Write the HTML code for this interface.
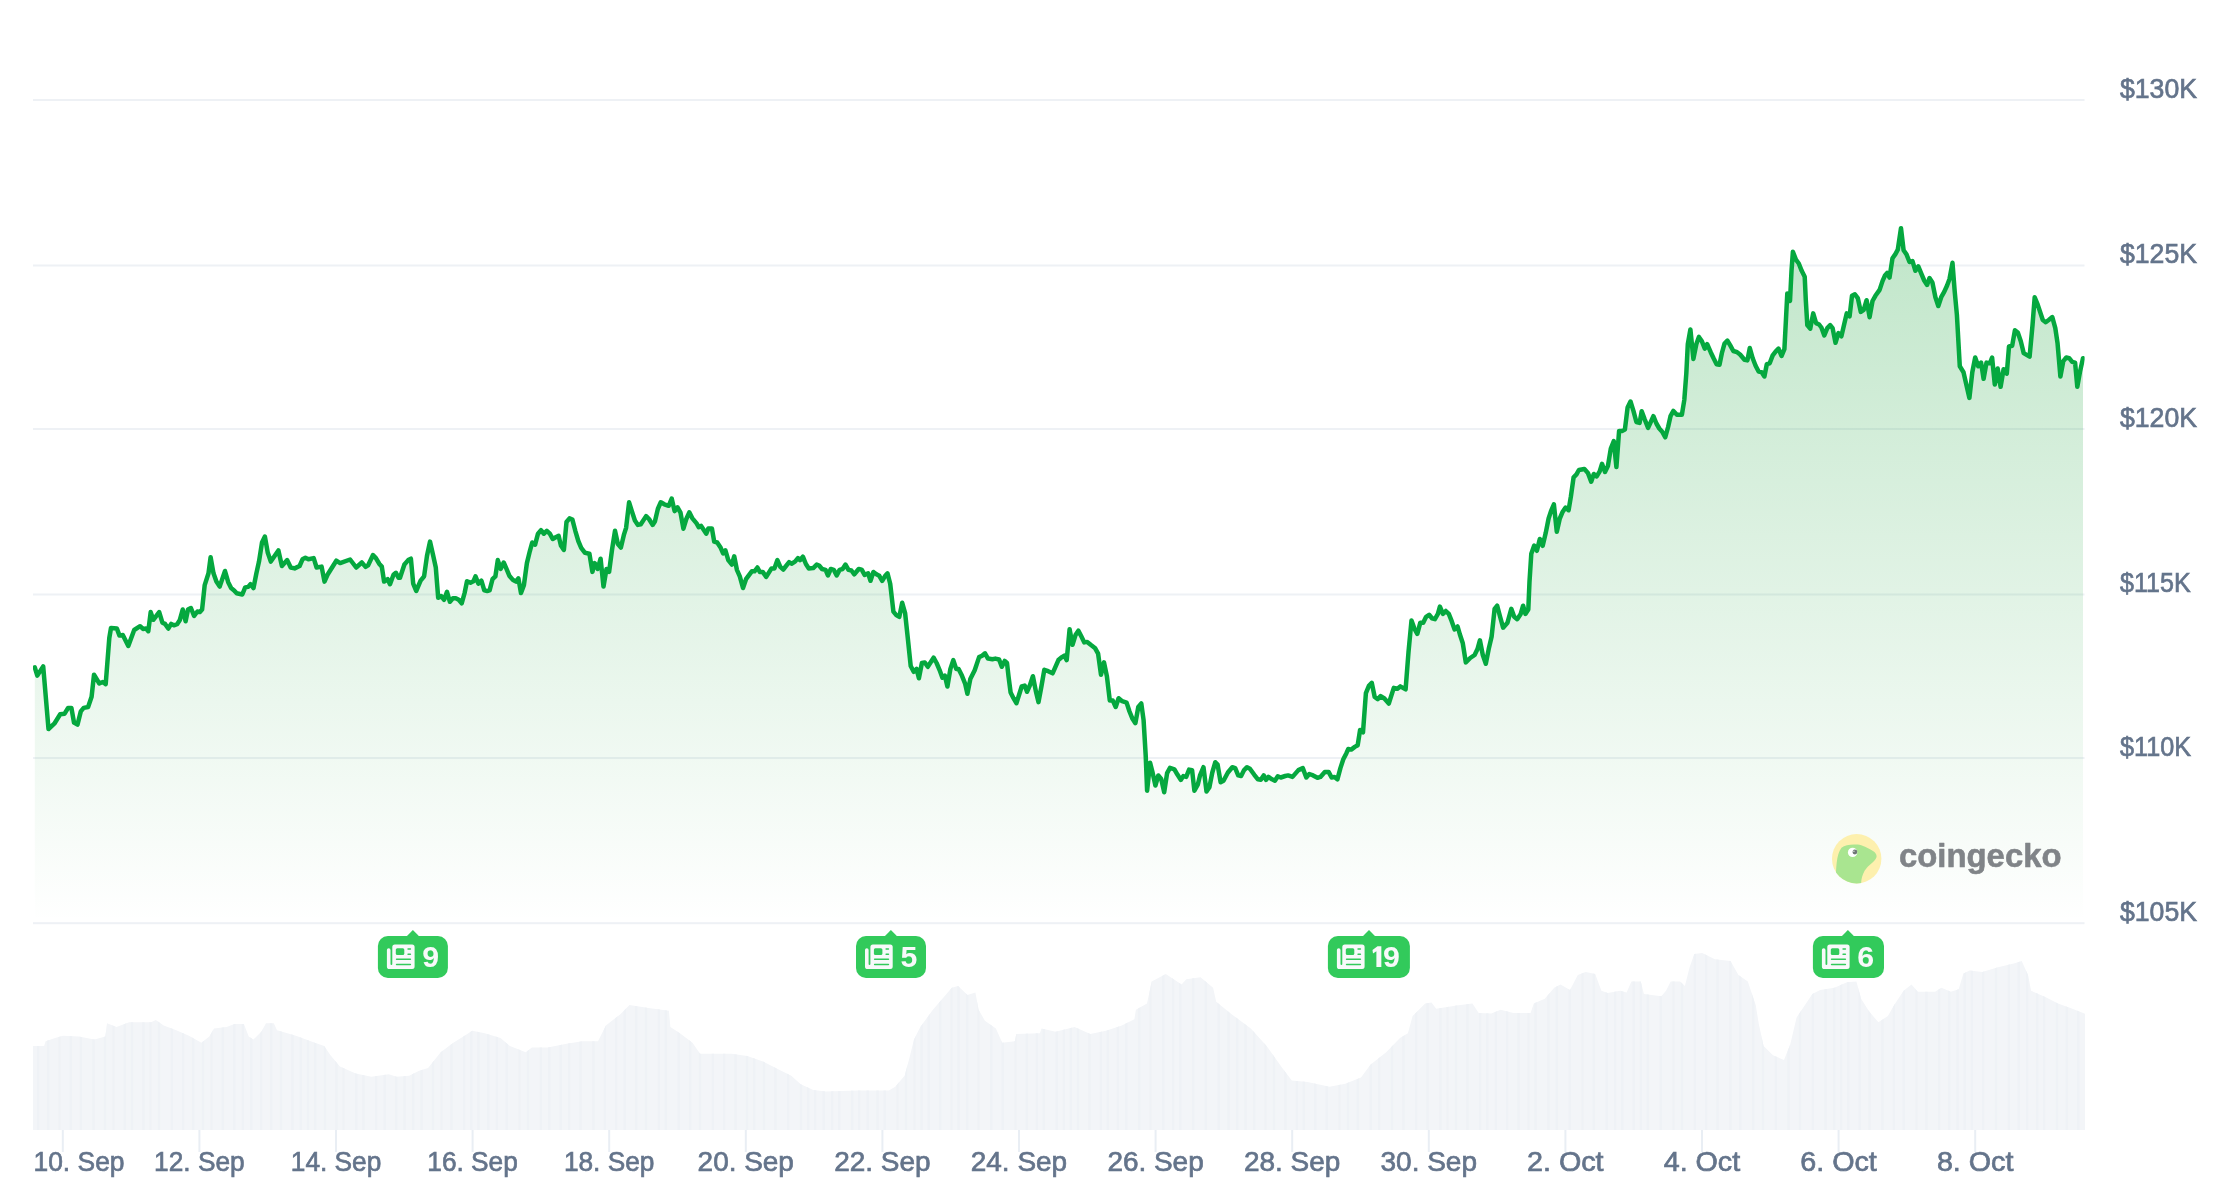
<!DOCTYPE html><html><head><meta charset="utf-8"><title>Chart</title><style>html,body{margin:0;padding:0;background:#fff}body{width:2224px;height:1192px;overflow:hidden}svg{display:block;will-change:transform}text{font-family:"Liberation Sans",sans-serif}</style></head><body>
<svg width="2224" height="1192" viewBox="0 0 2224 1192">
<defs><linearGradient id="g" x1="0" y1="227" x2="0" y2="922" gradientUnits="userSpaceOnUse"><stop offset="0" stop-color="#1EA53E" stop-opacity="0.28"/><stop offset="1" stop-color="#1EA53E" stop-opacity="0"/></linearGradient></defs>
<rect width="2224" height="1192" fill="#fff"/>
<rect x="33" y="99" width="2051.5" height="2" fill="#eef1f5"/>
<rect x="33" y="264.5" width="2051.5" height="2" fill="#eef1f5"/>
<rect x="33" y="428" width="2051.5" height="2" fill="#eef1f5"/>
<rect x="33" y="593.5" width="2051.5" height="2" fill="#eef1f5"/>
<rect x="33" y="757" width="2051.5" height="2" fill="#eef1f5"/>
<rect x="33" y="922.2" width="2051.5" height="2" fill="#eef1f5"/>
<path d="M33.0,1045.9 L44.1,1045.9 L45.6,1041.2 L55.1,1038.0 L63.0,1035.8 L78.7,1036.5 L94.4,1039.6 L105.4,1036.5 L107.0,1023.2 L116.5,1027.0 L129.1,1022.3 L151.1,1022.3 L155.8,1020.1 L163.7,1025.4 L176.3,1030.2 L188.9,1035.8 L201.4,1042.8 L209.3,1036.5 L214.0,1028.6 L226.6,1027.0 L234.5,1023.9 L243.9,1023.9 L248.7,1036.5 L253.4,1039.6 L261.3,1031.7 L266.0,1023.2 L273.8,1023.2 L277.0,1030.2 L295.9,1035.8 L314.8,1042.8 L324.2,1045.9 L330.5,1055.3 L339.9,1066.4 L355.7,1073.6 L371.4,1076.8 L388.7,1074.2 L396.6,1076.8 L409.2,1075.8 L418.6,1071.1 L428.1,1067.9 L440.7,1052.2 L453.3,1042.8 L465.8,1034.9 L472.1,1030.8 L484.7,1033.3 L500.5,1038.0 L509.9,1045.9 L525.7,1052.2 L531.9,1047.5 L547.7,1047.5 L566.6,1043.7 L582.3,1041.2 L598.0,1041.2 L605.9,1025.4 L620.1,1014.4 L629.5,1005.0 L648.4,1008.1 L668.9,1010.7 L670.4,1027.0 L679.9,1033.3 L692.5,1042.8 L700.0,1053.8 L715.7,1053.8 L731.5,1053.8 L747.2,1056.0 L763.0,1061.6 L778.7,1069.5 L791.3,1075.8 L800.7,1084.3 L813.3,1090.0 L825.9,1091.5 L857.4,1090.6 L888.9,1090.6 L895.2,1086.8 L904.6,1075.8 L909.3,1058.5 L914.0,1039.6 L920.3,1027.0 L932.9,1009.7 L942.4,998.7 L951.8,987.7 L958.1,986.1 L967.5,994.9 L975.4,992.4 L978.6,1009.7 L984.9,1020.7 L995.9,1028.6 L1002.2,1042.8 L1014.8,1041.2 L1016.3,1033.9 L1039.9,1033.3 L1041.5,1028.6 L1055.7,1031.7 L1074.6,1027.0 L1090.3,1033.9 L1106.0,1030.8 L1121.8,1025.4 L1134.4,1019.2 L1135.9,1009.7 L1147.0,1003.4 L1151.7,981.4 L1165.8,974.1 L1181.6,984.5 L1186.3,979.2 L1200.5,977.3 L1213.1,987.7 L1216.2,1001.8 L1231.9,1014.4 L1250.8,1028.6 L1266.6,1045.9 L1282.3,1067.9 L1291.8,1080.5 L1307.5,1082.1 L1329.5,1086.8 L1345.3,1083.7 L1361.0,1077.4 L1370.4,1064.8 L1386.2,1052.2 L1400.0,1038.0 L1407.9,1033.3 L1412.6,1016.0 L1425.2,1003.4 L1431.5,1002.5 L1436.2,1008.8 L1456.7,1005.6 L1472.4,1003.4 L1478.7,1012.9 L1491.3,1013.5 L1500.7,1009.7 L1513.3,1012.9 L1530.6,1012.9 L1533.8,1003.4 L1544.8,998.7 L1554.2,987.7 L1560.5,984.5 L1570.0,989.9 L1577.8,975.1 L1585.7,971.9 L1595.2,974.1 L1601.4,990.8 L1607.7,993.0 L1620.3,990.8 L1626.6,992.4 L1631.4,981.4 L1640.8,981.4 L1643.9,994.0 L1661.3,996.2 L1666.0,990.8 L1670.7,981.4 L1680.1,981.4 L1684.9,986.1 L1689.6,967.2 L1694.3,954.0 L1702.2,953.1 L1714.8,959.3 L1730.5,960.9 L1738.4,975.1 L1747.8,981.4 L1755.7,1005.0 L1758.8,1023.9 L1763.6,1045.9 L1773.0,1055.3 L1784.0,1060.1 L1790.3,1044.3 L1796.6,1017.6 L1806.0,1003.4 L1812.3,994.0 L1820.2,989.9 L1834.4,987.7 L1847.0,982.3 L1856.4,981.4 L1861.1,998.7 L1869.0,1011.3 L1878.4,1022.3 L1887.9,1016.0 L1894.2,1005.0 L1903.6,990.8 L1911.5,984.5 L1917.8,991.8 L1935.1,991.8 L1941.4,987.7 L1950.8,991.8 L1958.7,989.2 L1963.4,973.5 L1969.7,970.4 L1982.3,971.9 L1998.0,967.2 L2013.8,963.4 L2021.7,960.9 L2028.0,975.1 L2031.1,990.8 L2045.3,997.1 L2057.9,1003.4 L2070.4,1008.1 L2085.0,1013.8 L2085,1130 L33,1130 Z" fill="#f3f5f8"/>
<clipPath id="vc"><path d="M33.0,1045.9 L44.1,1045.9 L45.6,1041.2 L55.1,1038.0 L63.0,1035.8 L78.7,1036.5 L94.4,1039.6 L105.4,1036.5 L107.0,1023.2 L116.5,1027.0 L129.1,1022.3 L151.1,1022.3 L155.8,1020.1 L163.7,1025.4 L176.3,1030.2 L188.9,1035.8 L201.4,1042.8 L209.3,1036.5 L214.0,1028.6 L226.6,1027.0 L234.5,1023.9 L243.9,1023.9 L248.7,1036.5 L253.4,1039.6 L261.3,1031.7 L266.0,1023.2 L273.8,1023.2 L277.0,1030.2 L295.9,1035.8 L314.8,1042.8 L324.2,1045.9 L330.5,1055.3 L339.9,1066.4 L355.7,1073.6 L371.4,1076.8 L388.7,1074.2 L396.6,1076.8 L409.2,1075.8 L418.6,1071.1 L428.1,1067.9 L440.7,1052.2 L453.3,1042.8 L465.8,1034.9 L472.1,1030.8 L484.7,1033.3 L500.5,1038.0 L509.9,1045.9 L525.7,1052.2 L531.9,1047.5 L547.7,1047.5 L566.6,1043.7 L582.3,1041.2 L598.0,1041.2 L605.9,1025.4 L620.1,1014.4 L629.5,1005.0 L648.4,1008.1 L668.9,1010.7 L670.4,1027.0 L679.9,1033.3 L692.5,1042.8 L700.0,1053.8 L715.7,1053.8 L731.5,1053.8 L747.2,1056.0 L763.0,1061.6 L778.7,1069.5 L791.3,1075.8 L800.7,1084.3 L813.3,1090.0 L825.9,1091.5 L857.4,1090.6 L888.9,1090.6 L895.2,1086.8 L904.6,1075.8 L909.3,1058.5 L914.0,1039.6 L920.3,1027.0 L932.9,1009.7 L942.4,998.7 L951.8,987.7 L958.1,986.1 L967.5,994.9 L975.4,992.4 L978.6,1009.7 L984.9,1020.7 L995.9,1028.6 L1002.2,1042.8 L1014.8,1041.2 L1016.3,1033.9 L1039.9,1033.3 L1041.5,1028.6 L1055.7,1031.7 L1074.6,1027.0 L1090.3,1033.9 L1106.0,1030.8 L1121.8,1025.4 L1134.4,1019.2 L1135.9,1009.7 L1147.0,1003.4 L1151.7,981.4 L1165.8,974.1 L1181.6,984.5 L1186.3,979.2 L1200.5,977.3 L1213.1,987.7 L1216.2,1001.8 L1231.9,1014.4 L1250.8,1028.6 L1266.6,1045.9 L1282.3,1067.9 L1291.8,1080.5 L1307.5,1082.1 L1329.5,1086.8 L1345.3,1083.7 L1361.0,1077.4 L1370.4,1064.8 L1386.2,1052.2 L1400.0,1038.0 L1407.9,1033.3 L1412.6,1016.0 L1425.2,1003.4 L1431.5,1002.5 L1436.2,1008.8 L1456.7,1005.6 L1472.4,1003.4 L1478.7,1012.9 L1491.3,1013.5 L1500.7,1009.7 L1513.3,1012.9 L1530.6,1012.9 L1533.8,1003.4 L1544.8,998.7 L1554.2,987.7 L1560.5,984.5 L1570.0,989.9 L1577.8,975.1 L1585.7,971.9 L1595.2,974.1 L1601.4,990.8 L1607.7,993.0 L1620.3,990.8 L1626.6,992.4 L1631.4,981.4 L1640.8,981.4 L1643.9,994.0 L1661.3,996.2 L1666.0,990.8 L1670.7,981.4 L1680.1,981.4 L1684.9,986.1 L1689.6,967.2 L1694.3,954.0 L1702.2,953.1 L1714.8,959.3 L1730.5,960.9 L1738.4,975.1 L1747.8,981.4 L1755.7,1005.0 L1758.8,1023.9 L1763.6,1045.9 L1773.0,1055.3 L1784.0,1060.1 L1790.3,1044.3 L1796.6,1017.6 L1806.0,1003.4 L1812.3,994.0 L1820.2,989.9 L1834.4,987.7 L1847.0,982.3 L1856.4,981.4 L1861.1,998.7 L1869.0,1011.3 L1878.4,1022.3 L1887.9,1016.0 L1894.2,1005.0 L1903.6,990.8 L1911.5,984.5 L1917.8,991.8 L1935.1,991.8 L1941.4,987.7 L1950.8,991.8 L1958.7,989.2 L1963.4,973.5 L1969.7,970.4 L1982.3,971.9 L1998.0,967.2 L2013.8,963.4 L2021.7,960.9 L2028.0,975.1 L2031.1,990.8 L2045.3,997.1 L2057.9,1003.4 L2070.4,1008.1 L2085.0,1013.8 L2085,1130 L33,1130 Z"/></clipPath><g clip-path="url(#vc)" fill="#eff2f6">
<rect x="37.0" y="930" width="2.4" height="201"/>
<rect x="46.9" y="930" width="2.4" height="201"/>
<rect x="58.3" y="930" width="2.4" height="201"/>
<rect x="69.7" y="930" width="2.4" height="201"/>
<rect x="79.6" y="930" width="2.4" height="201"/>
<rect x="92.4" y="930" width="2.4" height="201"/>
<rect x="103.8" y="930" width="2.4" height="201"/>
<rect x="112.3" y="930" width="2.4" height="201"/>
<rect x="123.7" y="930" width="2.4" height="201"/>
<rect x="130.8" y="930" width="2.4" height="201"/>
<rect x="142.2" y="930" width="2.4" height="201"/>
<rect x="149.3" y="930" width="2.4" height="201"/>
<rect x="157.8" y="930" width="2.4" height="201"/>
<rect x="170.6" y="930" width="2.4" height="201"/>
<rect x="182.0" y="930" width="2.4" height="201"/>
<rect x="191.9" y="930" width="2.4" height="201"/>
<rect x="201.8" y="930" width="2.4" height="201"/>
<rect x="210.3" y="930" width="2.4" height="201"/>
<rect x="221.7" y="930" width="2.4" height="201"/>
<rect x="233.1" y="930" width="2.4" height="201"/>
<rect x="241.6" y="930" width="2.4" height="201"/>
<rect x="250.1" y="930" width="2.4" height="201"/>
<rect x="260.0" y="930" width="2.4" height="201"/>
<rect x="269.9" y="930" width="2.4" height="201"/>
<rect x="279.8" y="930" width="2.4" height="201"/>
<rect x="291.2" y="930" width="2.4" height="201"/>
<rect x="299.7" y="930" width="2.4" height="201"/>
<rect x="306.8" y="930" width="2.4" height="201"/>
<rect x="313.9" y="930" width="2.4" height="201"/>
<rect x="323.8" y="930" width="2.4" height="201"/>
<rect x="335.2" y="930" width="2.4" height="201"/>
<rect x="342.3" y="930" width="2.4" height="201"/>
<rect x="355.1" y="930" width="2.4" height="201"/>
<rect x="362.2" y="930" width="2.4" height="201"/>
<rect x="375.0" y="930" width="2.4" height="201"/>
<rect x="383.5" y="930" width="2.4" height="201"/>
<rect x="394.9" y="930" width="2.4" height="201"/>
<rect x="403.4" y="930" width="2.4" height="201"/>
<rect x="411.9" y="930" width="2.4" height="201"/>
<rect x="420.4" y="930" width="2.4" height="201"/>
<rect x="431.8" y="930" width="2.4" height="201"/>
<rect x="440.3" y="930" width="2.4" height="201"/>
<rect x="450.2" y="930" width="2.4" height="201"/>
<rect x="463.0" y="930" width="2.4" height="201"/>
<rect x="470.1" y="930" width="2.4" height="201"/>
<rect x="477.2" y="930" width="2.4" height="201"/>
<rect x="487.1" y="930" width="2.4" height="201"/>
<rect x="495.6" y="930" width="2.4" height="201"/>
<rect x="505.5" y="930" width="2.4" height="201"/>
<rect x="518.3" y="930" width="2.4" height="201"/>
<rect x="526.8" y="930" width="2.4" height="201"/>
<rect x="539.6" y="930" width="2.4" height="201"/>
<rect x="548.1" y="930" width="2.4" height="201"/>
<rect x="559.5" y="930" width="2.4" height="201"/>
<rect x="568.0" y="930" width="2.4" height="201"/>
<rect x="579.4" y="930" width="2.4" height="201"/>
<rect x="592.2" y="930" width="2.4" height="201"/>
<rect x="603.6" y="930" width="2.4" height="201"/>
<rect x="615.0" y="930" width="2.4" height="201"/>
<rect x="623.5" y="930" width="2.4" height="201"/>
<rect x="634.9" y="930" width="2.4" height="201"/>
<rect x="644.8" y="930" width="2.4" height="201"/>
<rect x="657.6" y="930" width="2.4" height="201"/>
<rect x="664.7" y="930" width="2.4" height="201"/>
<rect x="677.5" y="930" width="2.4" height="201"/>
<rect x="688.9" y="930" width="2.4" height="201"/>
<rect x="698.8" y="930" width="2.4" height="201"/>
<rect x="711.6" y="930" width="2.4" height="201"/>
<rect x="723.0" y="930" width="2.4" height="201"/>
<rect x="734.4" y="930" width="2.4" height="201"/>
<rect x="745.8" y="930" width="2.4" height="201"/>
<rect x="752.9" y="930" width="2.4" height="201"/>
<rect x="762.8" y="930" width="2.4" height="201"/>
<rect x="774.2" y="930" width="2.4" height="201"/>
<rect x="787.0" y="930" width="2.4" height="201"/>
<rect x="799.8" y="930" width="2.4" height="201"/>
<rect x="806.9" y="930" width="2.4" height="201"/>
<rect x="814.0" y="930" width="2.4" height="201"/>
<rect x="822.5" y="930" width="2.4" height="201"/>
<rect x="831.0" y="930" width="2.4" height="201"/>
<rect x="838.1" y="930" width="2.4" height="201"/>
<rect x="850.9" y="930" width="2.4" height="201"/>
<rect x="858.0" y="930" width="2.4" height="201"/>
<rect x="866.5" y="930" width="2.4" height="201"/>
<rect x="876.4" y="930" width="2.4" height="201"/>
<rect x="883.5" y="930" width="2.4" height="201"/>
<rect x="896.3" y="930" width="2.4" height="201"/>
<rect x="904.8" y="930" width="2.4" height="201"/>
<rect x="913.3" y="930" width="2.4" height="201"/>
<rect x="920.4" y="930" width="2.4" height="201"/>
<rect x="927.5" y="930" width="2.4" height="201"/>
<rect x="938.9" y="930" width="2.4" height="201"/>
<rect x="950.3" y="930" width="2.4" height="201"/>
<rect x="957.4" y="930" width="2.4" height="201"/>
<rect x="965.9" y="930" width="2.4" height="201"/>
<rect x="977.3" y="930" width="2.4" height="201"/>
<rect x="990.1" y="930" width="2.4" height="201"/>
<rect x="1001.5" y="930" width="2.4" height="201"/>
<rect x="1014.3" y="930" width="2.4" height="201"/>
<rect x="1025.7" y="930" width="2.4" height="201"/>
<rect x="1035.6" y="930" width="2.4" height="201"/>
<rect x="1042.7" y="930" width="2.4" height="201"/>
<rect x="1055.5" y="930" width="2.4" height="201"/>
<rect x="1062.6" y="930" width="2.4" height="201"/>
<rect x="1069.7" y="930" width="2.4" height="201"/>
<rect x="1076.8" y="930" width="2.4" height="201"/>
<rect x="1088.2" y="930" width="2.4" height="201"/>
<rect x="1099.6" y="930" width="2.4" height="201"/>
<rect x="1106.7" y="930" width="2.4" height="201"/>
<rect x="1116.6" y="930" width="2.4" height="201"/>
<rect x="1125.1" y="930" width="2.4" height="201"/>
<rect x="1137.9" y="930" width="2.4" height="201"/>
<rect x="1149.3" y="930" width="2.4" height="201"/>
<rect x="1162.1" y="930" width="2.4" height="201"/>
<rect x="1172.0" y="930" width="2.4" height="201"/>
<rect x="1179.1" y="930" width="2.4" height="201"/>
<rect x="1191.9" y="930" width="2.4" height="201"/>
<rect x="1204.7" y="930" width="2.4" height="201"/>
<rect x="1217.5" y="930" width="2.4" height="201"/>
<rect x="1227.4" y="930" width="2.4" height="201"/>
<rect x="1235.9" y="930" width="2.4" height="201"/>
<rect x="1244.4" y="930" width="2.4" height="201"/>
<rect x="1252.9" y="930" width="2.4" height="201"/>
<rect x="1264.3" y="930" width="2.4" height="201"/>
<rect x="1272.8" y="930" width="2.4" height="201"/>
<rect x="1284.2" y="930" width="2.4" height="201"/>
<rect x="1295.6" y="930" width="2.4" height="201"/>
<rect x="1302.7" y="930" width="2.4" height="201"/>
<rect x="1314.1" y="930" width="2.4" height="201"/>
<rect x="1325.5" y="930" width="2.4" height="201"/>
<rect x="1338.3" y="930" width="2.4" height="201"/>
<rect x="1346.8" y="930" width="2.4" height="201"/>
<rect x="1356.7" y="930" width="2.4" height="201"/>
<rect x="1369.5" y="930" width="2.4" height="201"/>
<rect x="1378.0" y="930" width="2.4" height="201"/>
<rect x="1390.8" y="930" width="2.4" height="201"/>
<rect x="1402.2" y="930" width="2.4" height="201"/>
<rect x="1415.0" y="930" width="2.4" height="201"/>
<rect x="1426.4" y="930" width="2.4" height="201"/>
<rect x="1439.2" y="930" width="2.4" height="201"/>
<rect x="1446.3" y="930" width="2.4" height="201"/>
<rect x="1454.8" y="930" width="2.4" height="201"/>
<rect x="1466.2" y="930" width="2.4" height="201"/>
<rect x="1479.0" y="930" width="2.4" height="201"/>
<rect x="1486.1" y="930" width="2.4" height="201"/>
<rect x="1494.6" y="930" width="2.4" height="201"/>
<rect x="1506.0" y="930" width="2.4" height="201"/>
<rect x="1517.4" y="930" width="2.4" height="201"/>
<rect x="1527.3" y="930" width="2.4" height="201"/>
<rect x="1534.4" y="930" width="2.4" height="201"/>
<rect x="1547.2" y="930" width="2.4" height="201"/>
<rect x="1555.7" y="930" width="2.4" height="201"/>
<rect x="1568.5" y="930" width="2.4" height="201"/>
<rect x="1581.3" y="930" width="2.4" height="201"/>
<rect x="1592.7" y="930" width="2.4" height="201"/>
<rect x="1605.5" y="930" width="2.4" height="201"/>
<rect x="1614.0" y="930" width="2.4" height="201"/>
<rect x="1621.1" y="930" width="2.4" height="201"/>
<rect x="1632.5" y="930" width="2.4" height="201"/>
<rect x="1639.6" y="930" width="2.4" height="201"/>
<rect x="1646.7" y="930" width="2.4" height="201"/>
<rect x="1659.5" y="930" width="2.4" height="201"/>
<rect x="1672.3" y="930" width="2.4" height="201"/>
<rect x="1680.8" y="930" width="2.4" height="201"/>
<rect x="1693.6" y="930" width="2.4" height="201"/>
<rect x="1705.0" y="930" width="2.4" height="201"/>
<rect x="1716.4" y="930" width="2.4" height="201"/>
<rect x="1729.2" y="930" width="2.4" height="201"/>
<rect x="1739.1" y="930" width="2.4" height="201"/>
<rect x="1751.9" y="930" width="2.4" height="201"/>
<rect x="1761.8" y="930" width="2.4" height="201"/>
<rect x="1774.6" y="930" width="2.4" height="201"/>
<rect x="1787.4" y="930" width="2.4" height="201"/>
<rect x="1798.8" y="930" width="2.4" height="201"/>
<rect x="1811.6" y="930" width="2.4" height="201"/>
<rect x="1824.4" y="930" width="2.4" height="201"/>
<rect x="1832.9" y="930" width="2.4" height="201"/>
<rect x="1840.0" y="930" width="2.4" height="201"/>
<rect x="1847.1" y="930" width="2.4" height="201"/>
<rect x="1858.5" y="930" width="2.4" height="201"/>
<rect x="1868.4" y="930" width="2.4" height="201"/>
<rect x="1881.2" y="930" width="2.4" height="201"/>
<rect x="1892.6" y="930" width="2.4" height="201"/>
<rect x="1902.5" y="930" width="2.4" height="201"/>
<rect x="1915.3" y="930" width="2.4" height="201"/>
<rect x="1925.2" y="930" width="2.4" height="201"/>
<rect x="1938.0" y="930" width="2.4" height="201"/>
<rect x="1947.9" y="930" width="2.4" height="201"/>
<rect x="1956.4" y="930" width="2.4" height="201"/>
<rect x="1963.5" y="930" width="2.4" height="201"/>
<rect x="1970.6" y="930" width="2.4" height="201"/>
<rect x="1982.0" y="930" width="2.4" height="201"/>
<rect x="1994.8" y="930" width="2.4" height="201"/>
<rect x="2007.6" y="930" width="2.4" height="201"/>
<rect x="2017.5" y="930" width="2.4" height="201"/>
<rect x="2026.0" y="930" width="2.4" height="201"/>
<rect x="2035.9" y="930" width="2.4" height="201"/>
<rect x="2043.0" y="930" width="2.4" height="201"/>
<rect x="2055.8" y="930" width="2.4" height="201"/>
<rect x="2065.7" y="930" width="2.4" height="201"/>
<rect x="2077.1" y="930" width="2.4" height="201"/>
</g>
<rect x="61.8" y="1130" width="2" height="22" fill="#e9eef4"/>
<text x="33.5" y="1171" font-size="28" fill="#64748b" stroke="#64748b" stroke-width="0.7" textLength="91" lengthAdjust="spacingAndGlyphs">10. Sep</text>
<rect x="198.39999999999998" y="1130" width="2" height="22" fill="#e9eef4"/>
<text x="154.1" y="1171" font-size="28" fill="#64748b" stroke="#64748b" stroke-width="0.7" textLength="90.5" lengthAdjust="spacingAndGlyphs">12. Sep</text>
<rect x="335.0" y="1130" width="2" height="22" fill="#e9eef4"/>
<text x="290.8" y="1171" font-size="28" fill="#64748b" stroke="#64748b" stroke-width="0.7" textLength="90.5" lengthAdjust="spacingAndGlyphs">14. Sep</text>
<rect x="471.59999999999997" y="1130" width="2" height="22" fill="#e9eef4"/>
<text x="427.3" y="1171" font-size="28" fill="#64748b" stroke="#64748b" stroke-width="0.7" textLength="90.5" lengthAdjust="spacingAndGlyphs">16. Sep</text>
<rect x="608.1999999999999" y="1130" width="2" height="22" fill="#e9eef4"/>
<text x="563.9" y="1171" font-size="28" fill="#64748b" stroke="#64748b" stroke-width="0.7" textLength="90.5" lengthAdjust="spacingAndGlyphs">18. Sep</text>
<rect x="744.8" y="1130" width="2" height="22" fill="#e9eef4"/>
<text x="697.6" y="1171" font-size="28" fill="#64748b" stroke="#64748b" stroke-width="0.7" textLength="96.3" lengthAdjust="spacingAndGlyphs">20. Sep</text>
<rect x="881.3999999999999" y="1130" width="2" height="22" fill="#e9eef4"/>
<text x="834.2" y="1171" font-size="28" fill="#64748b" stroke="#64748b" stroke-width="0.7" textLength="96.3" lengthAdjust="spacingAndGlyphs">22. Sep</text>
<rect x="1017.9999999999999" y="1130" width="2" height="22" fill="#e9eef4"/>
<text x="970.8" y="1171" font-size="28" fill="#64748b" stroke="#64748b" stroke-width="0.7" textLength="96.3" lengthAdjust="spacingAndGlyphs">24. Sep</text>
<rect x="1154.6" y="1130" width="2" height="22" fill="#e9eef4"/>
<text x="1107.4" y="1171" font-size="28" fill="#64748b" stroke="#64748b" stroke-width="0.7" textLength="96.3" lengthAdjust="spacingAndGlyphs">26. Sep</text>
<rect x="1291.1999999999998" y="1130" width="2" height="22" fill="#e9eef4"/>
<text x="1244.0" y="1171" font-size="28" fill="#64748b" stroke="#64748b" stroke-width="0.7" textLength="96.3" lengthAdjust="spacingAndGlyphs">28. Sep</text>
<rect x="1427.8" y="1130" width="2" height="22" fill="#e9eef4"/>
<text x="1380.5" y="1171" font-size="28" fill="#64748b" stroke="#64748b" stroke-width="0.7" textLength="96.5" lengthAdjust="spacingAndGlyphs">30. Sep</text>
<rect x="1564.3999999999999" y="1130" width="2" height="22" fill="#e9eef4"/>
<text x="1527.1" y="1171" font-size="28" fill="#64748b" stroke="#64748b" stroke-width="0.7" textLength="76.5" lengthAdjust="spacingAndGlyphs">2. Oct</text>
<rect x="1700.9999999999998" y="1130" width="2" height="22" fill="#e9eef4"/>
<text x="1663.7" y="1171" font-size="28" fill="#64748b" stroke="#64748b" stroke-width="0.7" textLength="76.5" lengthAdjust="spacingAndGlyphs">4. Oct</text>
<rect x="1837.6" y="1130" width="2" height="22" fill="#e9eef4"/>
<text x="1800.3" y="1171" font-size="28" fill="#64748b" stroke="#64748b" stroke-width="0.7" textLength="76.5" lengthAdjust="spacingAndGlyphs">6. Oct</text>
<rect x="1974.1999999999998" y="1130" width="2" height="22" fill="#e9eef4"/>
<text x="1936.9" y="1171" font-size="28" fill="#64748b" stroke="#64748b" stroke-width="0.7" textLength="76.5" lengthAdjust="spacingAndGlyphs">8. Oct</text>
<path d="M34.8,667.3 L37.3,675.6 L43.2,666.4 L48.5,729.0 L54.3,723.7 L60.2,714.3 L64.6,713.7 L68.1,707.9 L71.4,707.9 L74.0,722.5 L77.5,724.6 L80.8,711.4 L83.7,707.9 L88.1,707.0 L91.6,696.7 L94.0,674.7 L99.3,683.5 L102.8,682.0 L105.7,684.1 L109.3,638.0 L111.0,628.0 L116.9,628.6 L119.5,635.6 L122.8,635.0 L128.3,645.9 L134.2,630.0 L140.1,626.2 L143.0,628.9 L146.0,628.6 L148.3,631.2 L150.7,612.1 L153.3,619.8 L159.2,612.1 L162.4,622.7 L165.1,623.9 L168.3,628.6 L171.2,623.9 L173.9,625.3 L177.1,624.2 L179.7,620.3 L182.7,609.5 L185.6,621.2 L188.0,609.5 L190.9,608.0 L194.1,615.9 L197.4,611.5 L199.7,612.1 L202.1,609.5 L204.7,585.1 L208.5,573.3 L210.6,557.2 L213.5,573.3 L216.4,581.6 L219.7,586.6 L225.0,571.0 L228.2,582.2 L231.1,588.0 L234.1,590.4 L236.7,593.3 L242.3,594.5 L245.2,587.4 L248.2,586.9 L250.5,584.2 L253.5,588.0 L256.4,573.3 L259.0,561.6 L262.0,542.5 L264.9,536.6 L267.8,552.8 L270.8,561.6 L278.4,550.4 L281.9,566.0 L287.2,560.1 L290.7,567.5 L294.6,568.4 L299.6,566.0 L302.5,559.3 L305.4,557.8 L308.4,559.3 L313.7,558.1 L316.6,567.5 L321.6,566.6 L324.5,581.6 L327.5,574.8 L336.3,560.7 L340.1,563.1 L350.1,559.5 L356.2,567.5 L361.8,562.5 L365.6,566.9 L368.0,565.4 L373.0,555.1 L375.9,558.1 L379.4,564.0 L381.8,566.6 L384.1,581.6 L387.7,579.2 L390.0,584.2 L393.5,574.8 L395.9,572.8 L398.5,577.8 L400.0,577.8 L404.4,564.5 L408.2,560.1 L410.9,558.7 L413.2,583.6 L416.2,591.0 L420.6,580.7 L424.1,576.3 L427.0,555.7 L430.0,541.6 L432.9,554.3 L435.8,567.5 L438.2,597.7 L441.1,596.0 L444.1,599.8 L447.0,591.9 L449.9,601.8 L452.9,598.3 L455.8,598.3 L458.7,599.8 L461.7,603.3 L464.6,593.0 L467.0,581.3 L470.5,582.7 L473.4,581.3 L475.5,576.3 L478.4,583.6 L481.4,580.7 L484.3,590.4 L487.2,591.0 L489.6,590.4 L492.5,579.2 L495.4,576.3 L497.8,560.1 L500.7,568.9 L503.7,562.5 L506.3,568.4 L509.3,575.7 L513.1,580.1 L516.0,581.6 L518.4,578.3 L521.0,593.0 L523.9,585.1 L526.9,563.1 L529.8,551.3 L532.2,542.5 L535.1,544.6 L538.0,533.7 L541.0,530.2 L543.9,533.7 L546.8,530.8 L549.8,533.7 L552.7,539.0 L555.7,537.2 L558.6,535.8 L560.9,545.4 L563.9,549.9 L566.5,522.0 L569.5,518.4 L572.4,519.6 L575.3,530.8 L578.3,541.0 L581.2,547.8 L585.0,552.8 L589.4,553.7 L592.4,571.9 L594.7,563.1 L597.7,568.9 L600.6,558.7 L603.5,586.6 L606.5,568.9 L609.1,571.9 L612.0,549.9 L615.0,530.8 L617.9,544.0 L620.9,547.5 L623.8,535.2 L626.1,527.8 L629.1,502.3 L632.0,511.7 L634.9,520.5 L637.9,524.9 L640.8,524.3 L646.1,516.1 L649.0,519.0 L652.6,524.9 L654.9,521.4 L657.9,508.7 L660.8,502.3 L664.3,504.3 L668.7,505.8 L671.7,498.5 L674.6,511.1 L677.5,507.3 L680.5,512.6 L683.4,528.7 L686.3,519.0 L689.3,512.3 L692.2,518.1 L696.6,523.4 L698.7,527.2 L701.0,525.8 L706.3,533.7 L708.4,528.4 L711.9,528.4 L714.2,541.6 L717.2,542.5 L720.7,547.8 L723.1,553.4 L725.4,550.4 L728.3,560.1 L731.9,564.5 L734.2,556.3 L736.9,569.8 L739.8,576.3 L743.0,588.0 L746.0,579.2 L751.8,571.3 L754.5,571.3 L757.4,567.5 L759.8,571.9 L762.7,571.9 L766.2,576.9 L771.5,568.4 L774.4,568.4 L777.4,560.1 L780.3,566.9 L783.3,569.5 L789.1,562.2 L791.5,563.7 L795.0,561.6 L797.9,558.1 L800.0,560.2 L802.9,556.7 L805.9,564.0 L808.8,568.4 L813.2,568.1 L816.7,564.6 L819.1,565.5 L822.0,569.0 L825.6,569.9 L827.9,575.5 L830.8,569.0 L833.8,569.9 L836.7,575.5 L839.6,569.9 L842.6,569.0 L845.5,564.6 L848.5,569.9 L851.4,570.5 L854.3,574.3 L858.7,569.0 L861.7,569.6 L864.6,574.9 L868.1,573.4 L870.5,580.8 L873.4,572.0 L876.4,574.3 L879.3,575.8 L882.2,580.8 L885.2,575.8 L887.5,573.4 L890.2,583.7 L893.4,611.6 L896.3,615.1 L899.3,616.9 L902.2,602.8 L905.1,613.1 L908.1,641.0 L910.7,665.9 L913.7,671.8 L916.6,668.9 L918.9,678.3 L921.9,663.0 L924.8,662.4 L927.8,666.8 L933.6,657.7 L936.6,663.0 L939.5,669.8 L942.4,677.7 L944.8,675.6 L947.4,686.5 L950.4,668.9 L953.3,660.1 L956.2,668.9 L958.6,668.9 L961.5,674.7 L965.1,683.6 L967.4,693.8 L970.3,679.1 L974.7,670.3 L979.1,657.1 L982.1,655.7 L985.0,653.3 L988.0,658.6 L992.4,659.2 L995.3,658.6 L999.1,659.5 L1001.8,666.8 L1004.7,660.9 L1007.0,663.0 L1008.5,676.2 L1010.6,692.4 L1013.5,698.2 L1016.4,703.2 L1021.7,686.5 L1024.7,685.6 L1027.0,691.8 L1030.0,685.0 L1032.9,676.2 L1035.8,690.9 L1038.5,702.1 L1041.4,686.5 L1044.3,669.8 L1048.2,671.2 L1052.6,673.3 L1058.4,660.1 L1062.0,657.1 L1064.3,655.7 L1066.7,660.1 L1069.6,629.2 L1072.5,644.8 L1075.5,635.1 L1078.4,630.7 L1081.4,636.6 L1084.3,642.4 L1087.2,641.9 L1090.7,644.8 L1095.2,648.3 L1098.1,653.6 L1101.0,674.7 L1104.0,662.4 L1106.9,676.2 L1109.8,700.6 L1112.8,700.6 L1115.7,707.0 L1118.6,698.2 L1122.2,701.2 L1126.6,702.6 L1129.5,711.5 L1132.5,718.8 L1135.4,723.2 L1138.3,707.0 L1141.3,703.5 L1143.6,720.3 L1145.7,755.5 L1147.1,790.7 L1150.1,762.8 L1152.4,771.7 L1155.4,785.5 L1158.3,775.5 L1161.2,779.0 L1164.2,792.2 L1167.1,773.1 L1170.0,767.8 L1174.4,769.3 L1177.4,774.6 L1180.9,779.9 L1183.3,776.1 L1186.2,776.9 L1189.1,769.6 L1192.1,770.2 L1194.4,790.7 L1197.9,784.3 L1200.0,775.4 L1203.5,767.2 L1206.5,791.6 L1209.4,787.2 L1212.3,772.5 L1215.3,762.2 L1217.6,764.6 L1220.6,782.2 L1223.5,780.7 L1227.9,772.5 L1232.3,767.2 L1235.2,768.1 L1238.2,775.4 L1241.1,776.0 L1244.1,770.1 L1247.0,767.2 L1249.9,768.7 L1254.3,774.8 L1257.9,779.3 L1260.8,779.8 L1263.7,775.4 L1266.1,779.8 L1268.4,776.9 L1272.0,779.3 L1274.9,780.7 L1277.8,776.3 L1280.8,777.5 L1285.2,776.0 L1288.1,775.4 L1292.5,776.9 L1298.4,770.1 L1302.8,768.1 L1306.3,777.5 L1309.3,774.0 L1313.1,775.4 L1317.5,777.8 L1320.4,776.9 L1324.8,771.9 L1328.6,771.9 L1331.6,777.5 L1334.5,776.9 L1337.4,779.3 L1340.4,768.1 L1343.3,759.3 L1346.3,753.4 L1348.3,749.0 L1351.2,749.6 L1354.8,746.9 L1357.7,745.2 L1360.1,729.9 L1363.0,732.3 L1365.9,693.2 L1368.9,685.9 L1371.8,682.9 L1374.7,697.0 L1377.7,699.1 L1380.6,696.1 L1384.4,698.5 L1388.8,703.5 L1393.8,687.9 L1397.4,688.8 L1400.3,686.4 L1405.6,689.4 L1408.5,652.1 L1411.5,620.4 L1414.4,628.6 L1417.3,633.9 L1420.3,622.7 L1423.2,622.7 L1426.1,616.8 L1429.1,614.8 L1432.0,618.3 L1434.9,619.2 L1437.9,613.9 L1439.9,606.6 L1442.9,613.9 L1445.8,611.0 L1448.8,613.9 L1451.7,621.2 L1454.6,629.5 L1457.6,626.5 L1459.9,634.5 L1462.8,643.3 L1465.8,662.4 L1470.2,658.0 L1474.6,655.0 L1477.5,649.1 L1479.9,640.3 L1482.8,655.0 L1485.8,663.8 L1488.7,649.1 L1491.6,636.8 L1494.6,608.9 L1497.2,605.7 L1500.1,616.8 L1503.1,627.7 L1507.5,622.7 L1511.3,608.9 L1514.2,616.8 L1517.2,619.2 L1520.7,613.9 L1523.1,605.7 L1525.4,613.9 L1528.3,609.5 L1529.5,581.6 L1531.3,553.7 L1534.2,545.5 L1536.9,550.8 L1539.8,539.0 L1542.7,545.8 L1545.7,533.1 L1548.6,518.5 L1551.0,511.1 L1553.9,504.4 L1556.8,531.7 L1559.8,518.5 L1562.7,511.7 L1565.6,507.6 L1568.6,510.2 L1570.9,496.4 L1573.6,477.3 L1576.5,474.4 L1578.9,470.0 L1584.4,469.0 L1587.9,472.9 L1591.2,481.7 L1593.8,474.0 L1596.7,476.4 L1599.7,471.4 L1602.0,463.8 L1605.0,472.0 L1607.9,466.1 L1610.8,448.5 L1613.8,441.1 L1616.4,467.0 L1619.1,430.9 L1622.0,430.9 L1624.9,429.4 L1627.6,407.4 L1630.5,401.5 L1633.5,411.2 L1636.4,422.0 L1639.6,422.9 L1641.7,411.2 L1644.6,419.1 L1648.1,427.9 L1653.4,416.2 L1656.4,423.5 L1659.3,428.5 L1662.2,431.7 L1665.2,437.3 L1668.1,427.0 L1670.5,416.2 L1673.4,410.9 L1676.9,414.7 L1681.9,414.7 L1684.3,400.0 L1686.3,373.6 L1687.8,344.2 L1690.4,329.5 L1693.4,358.9 L1696.3,344.2 L1698.9,336.9 L1701.9,341.3 L1704.8,348.6 L1707.2,344.2 L1710.7,352.2 L1713.6,358.3 L1716.6,364.2 L1719.5,364.8 L1721.9,353.0 L1724.5,343.6 L1727.4,340.7 L1730.4,345.7 L1733.3,351.0 L1737.1,352.2 L1740.1,354.5 L1744.5,359.8 L1747.4,360.4 L1749.8,348.0 L1752.7,358.3 L1755.6,365.7 L1758.6,371.5 L1761.5,372.1 L1764.4,376.5 L1766.8,364.2 L1769.7,363.3 L1772.7,355.4 L1775.6,351.6 L1778.5,348.6 L1781.5,356.0 L1784.4,349.2 L1785.9,320.7 L1787.3,293.4 L1790.0,301.0 L1791.5,270.8 L1792.9,251.7 L1795.9,259.6 L1798.8,263.5 L1801.7,270.8 L1804.7,276.7 L1805.8,300.2 L1807.3,325.1 L1810.2,328.7 L1813.2,313.4 L1816.1,323.1 L1819.1,324.5 L1821.4,327.5 L1824.3,335.4 L1827.3,328.1 L1830.2,325.1 L1832.6,328.1 L1835.5,342.8 L1838.4,333.1 L1841.4,336.3 L1844.3,323.7 L1846.7,313.4 L1849.6,316.3 L1852.0,295.8 L1854.9,294.3 L1857.8,298.1 L1860.8,311.9 L1863.7,309.9 L1866.6,300.2 L1869.6,317.2 L1872.5,301.0 L1875.4,295.8 L1879.6,289.9 L1882.5,281.1 L1884.8,275.8 L1887.2,272.9 L1889.5,277.6 L1892.5,258.2 L1895.4,254.1 L1897.8,249.7 L1901.0,228.2 L1903.6,250.2 L1906.6,254.6 L1909.5,262.0 L1912.5,261.1 L1915.4,270.8 L1918.3,266.4 L1921.3,273.7 L1924.2,280.5 L1927.1,284.9 L1929.5,278.1 L1932.4,282.5 L1935.4,297.2 L1938.3,306.0 L1941.2,297.2 L1944.2,291.9 L1947.1,285.5 L1949.5,279.0 L1952.5,262.8 L1954.7,291.4 L1956.9,314.9 L1959.8,366.3 L1963.5,372.2 L1969.4,397.9 L1972.3,372.2 L1975.2,357.5 L1978.2,366.3 L1981.1,362.6 L1983.6,378.8 L1986.5,362.6 L1989.9,363.3 L1992.1,357.5 L1994.8,384.6 L1997.7,368.5 L2000.6,386.8 L2003.6,369.2 L2006.8,373.6 L2009.0,346.5 L2012.2,345.7 L2014.9,330.3 L2017.8,332.5 L2020.8,341.3 L2023.7,353.1 L2029.6,356.7 L2032.5,325.2 L2034.7,297.3 L2037.7,304.6 L2042.8,320.0 L2045.7,322.2 L2048.7,320.0 L2052.3,317.1 L2055.3,328.1 L2057.5,342.8 L2060.4,376.6 L2063.3,361.1 L2066.3,357.5 L2069.2,358.2 L2072.2,361.9 L2075.1,362.6 L2077.3,386.8 L2080.2,370.7 L2083.0,358.2 L2083.0,923 L34.8,923 Z" fill="url(#g)"/>
<clipPath id="pc"><rect x="33" y="0" width="2051.6" height="1000"/></clipPath>
<path clip-path="url(#pc)" d="M34.8,667.3 L37.3,675.6 L43.2,666.4 L48.5,729.0 L54.3,723.7 L60.2,714.3 L64.6,713.7 L68.1,707.9 L71.4,707.9 L74.0,722.5 L77.5,724.6 L80.8,711.4 L83.7,707.9 L88.1,707.0 L91.6,696.7 L94.0,674.7 L99.3,683.5 L102.8,682.0 L105.7,684.1 L109.3,638.0 L111.0,628.0 L116.9,628.6 L119.5,635.6 L122.8,635.0 L128.3,645.9 L134.2,630.0 L140.1,626.2 L143.0,628.9 L146.0,628.6 L148.3,631.2 L150.7,612.1 L153.3,619.8 L159.2,612.1 L162.4,622.7 L165.1,623.9 L168.3,628.6 L171.2,623.9 L173.9,625.3 L177.1,624.2 L179.7,620.3 L182.7,609.5 L185.6,621.2 L188.0,609.5 L190.9,608.0 L194.1,615.9 L197.4,611.5 L199.7,612.1 L202.1,609.5 L204.7,585.1 L208.5,573.3 L210.6,557.2 L213.5,573.3 L216.4,581.6 L219.7,586.6 L225.0,571.0 L228.2,582.2 L231.1,588.0 L234.1,590.4 L236.7,593.3 L242.3,594.5 L245.2,587.4 L248.2,586.9 L250.5,584.2 L253.5,588.0 L256.4,573.3 L259.0,561.6 L262.0,542.5 L264.9,536.6 L267.8,552.8 L270.8,561.6 L278.4,550.4 L281.9,566.0 L287.2,560.1 L290.7,567.5 L294.6,568.4 L299.6,566.0 L302.5,559.3 L305.4,557.8 L308.4,559.3 L313.7,558.1 L316.6,567.5 L321.6,566.6 L324.5,581.6 L327.5,574.8 L336.3,560.7 L340.1,563.1 L350.1,559.5 L356.2,567.5 L361.8,562.5 L365.6,566.9 L368.0,565.4 L373.0,555.1 L375.9,558.1 L379.4,564.0 L381.8,566.6 L384.1,581.6 L387.7,579.2 L390.0,584.2 L393.5,574.8 L395.9,572.8 L398.5,577.8 L400.0,577.8 L404.4,564.5 L408.2,560.1 L410.9,558.7 L413.2,583.6 L416.2,591.0 L420.6,580.7 L424.1,576.3 L427.0,555.7 L430.0,541.6 L432.9,554.3 L435.8,567.5 L438.2,597.7 L441.1,596.0 L444.1,599.8 L447.0,591.9 L449.9,601.8 L452.9,598.3 L455.8,598.3 L458.7,599.8 L461.7,603.3 L464.6,593.0 L467.0,581.3 L470.5,582.7 L473.4,581.3 L475.5,576.3 L478.4,583.6 L481.4,580.7 L484.3,590.4 L487.2,591.0 L489.6,590.4 L492.5,579.2 L495.4,576.3 L497.8,560.1 L500.7,568.9 L503.7,562.5 L506.3,568.4 L509.3,575.7 L513.1,580.1 L516.0,581.6 L518.4,578.3 L521.0,593.0 L523.9,585.1 L526.9,563.1 L529.8,551.3 L532.2,542.5 L535.1,544.6 L538.0,533.7 L541.0,530.2 L543.9,533.7 L546.8,530.8 L549.8,533.7 L552.7,539.0 L555.7,537.2 L558.6,535.8 L560.9,545.4 L563.9,549.9 L566.5,522.0 L569.5,518.4 L572.4,519.6 L575.3,530.8 L578.3,541.0 L581.2,547.8 L585.0,552.8 L589.4,553.7 L592.4,571.9 L594.7,563.1 L597.7,568.9 L600.6,558.7 L603.5,586.6 L606.5,568.9 L609.1,571.9 L612.0,549.9 L615.0,530.8 L617.9,544.0 L620.9,547.5 L623.8,535.2 L626.1,527.8 L629.1,502.3 L632.0,511.7 L634.9,520.5 L637.9,524.9 L640.8,524.3 L646.1,516.1 L649.0,519.0 L652.6,524.9 L654.9,521.4 L657.9,508.7 L660.8,502.3 L664.3,504.3 L668.7,505.8 L671.7,498.5 L674.6,511.1 L677.5,507.3 L680.5,512.6 L683.4,528.7 L686.3,519.0 L689.3,512.3 L692.2,518.1 L696.6,523.4 L698.7,527.2 L701.0,525.8 L706.3,533.7 L708.4,528.4 L711.9,528.4 L714.2,541.6 L717.2,542.5 L720.7,547.8 L723.1,553.4 L725.4,550.4 L728.3,560.1 L731.9,564.5 L734.2,556.3 L736.9,569.8 L739.8,576.3 L743.0,588.0 L746.0,579.2 L751.8,571.3 L754.5,571.3 L757.4,567.5 L759.8,571.9 L762.7,571.9 L766.2,576.9 L771.5,568.4 L774.4,568.4 L777.4,560.1 L780.3,566.9 L783.3,569.5 L789.1,562.2 L791.5,563.7 L795.0,561.6 L797.9,558.1 L800.0,560.2 L802.9,556.7 L805.9,564.0 L808.8,568.4 L813.2,568.1 L816.7,564.6 L819.1,565.5 L822.0,569.0 L825.6,569.9 L827.9,575.5 L830.8,569.0 L833.8,569.9 L836.7,575.5 L839.6,569.9 L842.6,569.0 L845.5,564.6 L848.5,569.9 L851.4,570.5 L854.3,574.3 L858.7,569.0 L861.7,569.6 L864.6,574.9 L868.1,573.4 L870.5,580.8 L873.4,572.0 L876.4,574.3 L879.3,575.8 L882.2,580.8 L885.2,575.8 L887.5,573.4 L890.2,583.7 L893.4,611.6 L896.3,615.1 L899.3,616.9 L902.2,602.8 L905.1,613.1 L908.1,641.0 L910.7,665.9 L913.7,671.8 L916.6,668.9 L918.9,678.3 L921.9,663.0 L924.8,662.4 L927.8,666.8 L933.6,657.7 L936.6,663.0 L939.5,669.8 L942.4,677.7 L944.8,675.6 L947.4,686.5 L950.4,668.9 L953.3,660.1 L956.2,668.9 L958.6,668.9 L961.5,674.7 L965.1,683.6 L967.4,693.8 L970.3,679.1 L974.7,670.3 L979.1,657.1 L982.1,655.7 L985.0,653.3 L988.0,658.6 L992.4,659.2 L995.3,658.6 L999.1,659.5 L1001.8,666.8 L1004.7,660.9 L1007.0,663.0 L1008.5,676.2 L1010.6,692.4 L1013.5,698.2 L1016.4,703.2 L1021.7,686.5 L1024.7,685.6 L1027.0,691.8 L1030.0,685.0 L1032.9,676.2 L1035.8,690.9 L1038.5,702.1 L1041.4,686.5 L1044.3,669.8 L1048.2,671.2 L1052.6,673.3 L1058.4,660.1 L1062.0,657.1 L1064.3,655.7 L1066.7,660.1 L1069.6,629.2 L1072.5,644.8 L1075.5,635.1 L1078.4,630.7 L1081.4,636.6 L1084.3,642.4 L1087.2,641.9 L1090.7,644.8 L1095.2,648.3 L1098.1,653.6 L1101.0,674.7 L1104.0,662.4 L1106.9,676.2 L1109.8,700.6 L1112.8,700.6 L1115.7,707.0 L1118.6,698.2 L1122.2,701.2 L1126.6,702.6 L1129.5,711.5 L1132.5,718.8 L1135.4,723.2 L1138.3,707.0 L1141.3,703.5 L1143.6,720.3 L1145.7,755.5 L1147.1,790.7 L1150.1,762.8 L1152.4,771.7 L1155.4,785.5 L1158.3,775.5 L1161.2,779.0 L1164.2,792.2 L1167.1,773.1 L1170.0,767.8 L1174.4,769.3 L1177.4,774.6 L1180.9,779.9 L1183.3,776.1 L1186.2,776.9 L1189.1,769.6 L1192.1,770.2 L1194.4,790.7 L1197.9,784.3 L1200.0,775.4 L1203.5,767.2 L1206.5,791.6 L1209.4,787.2 L1212.3,772.5 L1215.3,762.2 L1217.6,764.6 L1220.6,782.2 L1223.5,780.7 L1227.9,772.5 L1232.3,767.2 L1235.2,768.1 L1238.2,775.4 L1241.1,776.0 L1244.1,770.1 L1247.0,767.2 L1249.9,768.7 L1254.3,774.8 L1257.9,779.3 L1260.8,779.8 L1263.7,775.4 L1266.1,779.8 L1268.4,776.9 L1272.0,779.3 L1274.9,780.7 L1277.8,776.3 L1280.8,777.5 L1285.2,776.0 L1288.1,775.4 L1292.5,776.9 L1298.4,770.1 L1302.8,768.1 L1306.3,777.5 L1309.3,774.0 L1313.1,775.4 L1317.5,777.8 L1320.4,776.9 L1324.8,771.9 L1328.6,771.9 L1331.6,777.5 L1334.5,776.9 L1337.4,779.3 L1340.4,768.1 L1343.3,759.3 L1346.3,753.4 L1348.3,749.0 L1351.2,749.6 L1354.8,746.9 L1357.7,745.2 L1360.1,729.9 L1363.0,732.3 L1365.9,693.2 L1368.9,685.9 L1371.8,682.9 L1374.7,697.0 L1377.7,699.1 L1380.6,696.1 L1384.4,698.5 L1388.8,703.5 L1393.8,687.9 L1397.4,688.8 L1400.3,686.4 L1405.6,689.4 L1408.5,652.1 L1411.5,620.4 L1414.4,628.6 L1417.3,633.9 L1420.3,622.7 L1423.2,622.7 L1426.1,616.8 L1429.1,614.8 L1432.0,618.3 L1434.9,619.2 L1437.9,613.9 L1439.9,606.6 L1442.9,613.9 L1445.8,611.0 L1448.8,613.9 L1451.7,621.2 L1454.6,629.5 L1457.6,626.5 L1459.9,634.5 L1462.8,643.3 L1465.8,662.4 L1470.2,658.0 L1474.6,655.0 L1477.5,649.1 L1479.9,640.3 L1482.8,655.0 L1485.8,663.8 L1488.7,649.1 L1491.6,636.8 L1494.6,608.9 L1497.2,605.7 L1500.1,616.8 L1503.1,627.7 L1507.5,622.7 L1511.3,608.9 L1514.2,616.8 L1517.2,619.2 L1520.7,613.9 L1523.1,605.7 L1525.4,613.9 L1528.3,609.5 L1529.5,581.6 L1531.3,553.7 L1534.2,545.5 L1536.9,550.8 L1539.8,539.0 L1542.7,545.8 L1545.7,533.1 L1548.6,518.5 L1551.0,511.1 L1553.9,504.4 L1556.8,531.7 L1559.8,518.5 L1562.7,511.7 L1565.6,507.6 L1568.6,510.2 L1570.9,496.4 L1573.6,477.3 L1576.5,474.4 L1578.9,470.0 L1584.4,469.0 L1587.9,472.9 L1591.2,481.7 L1593.8,474.0 L1596.7,476.4 L1599.7,471.4 L1602.0,463.8 L1605.0,472.0 L1607.9,466.1 L1610.8,448.5 L1613.8,441.1 L1616.4,467.0 L1619.1,430.9 L1622.0,430.9 L1624.9,429.4 L1627.6,407.4 L1630.5,401.5 L1633.5,411.2 L1636.4,422.0 L1639.6,422.9 L1641.7,411.2 L1644.6,419.1 L1648.1,427.9 L1653.4,416.2 L1656.4,423.5 L1659.3,428.5 L1662.2,431.7 L1665.2,437.3 L1668.1,427.0 L1670.5,416.2 L1673.4,410.9 L1676.9,414.7 L1681.9,414.7 L1684.3,400.0 L1686.3,373.6 L1687.8,344.2 L1690.4,329.5 L1693.4,358.9 L1696.3,344.2 L1698.9,336.9 L1701.9,341.3 L1704.8,348.6 L1707.2,344.2 L1710.7,352.2 L1713.6,358.3 L1716.6,364.2 L1719.5,364.8 L1721.9,353.0 L1724.5,343.6 L1727.4,340.7 L1730.4,345.7 L1733.3,351.0 L1737.1,352.2 L1740.1,354.5 L1744.5,359.8 L1747.4,360.4 L1749.8,348.0 L1752.7,358.3 L1755.6,365.7 L1758.6,371.5 L1761.5,372.1 L1764.4,376.5 L1766.8,364.2 L1769.7,363.3 L1772.7,355.4 L1775.6,351.6 L1778.5,348.6 L1781.5,356.0 L1784.4,349.2 L1785.9,320.7 L1787.3,293.4 L1790.0,301.0 L1791.5,270.8 L1792.9,251.7 L1795.9,259.6 L1798.8,263.5 L1801.7,270.8 L1804.7,276.7 L1805.8,300.2 L1807.3,325.1 L1810.2,328.7 L1813.2,313.4 L1816.1,323.1 L1819.1,324.5 L1821.4,327.5 L1824.3,335.4 L1827.3,328.1 L1830.2,325.1 L1832.6,328.1 L1835.5,342.8 L1838.4,333.1 L1841.4,336.3 L1844.3,323.7 L1846.7,313.4 L1849.6,316.3 L1852.0,295.8 L1854.9,294.3 L1857.8,298.1 L1860.8,311.9 L1863.7,309.9 L1866.6,300.2 L1869.6,317.2 L1872.5,301.0 L1875.4,295.8 L1879.6,289.9 L1882.5,281.1 L1884.8,275.8 L1887.2,272.9 L1889.5,277.6 L1892.5,258.2 L1895.4,254.1 L1897.8,249.7 L1901.0,228.2 L1903.6,250.2 L1906.6,254.6 L1909.5,262.0 L1912.5,261.1 L1915.4,270.8 L1918.3,266.4 L1921.3,273.7 L1924.2,280.5 L1927.1,284.9 L1929.5,278.1 L1932.4,282.5 L1935.4,297.2 L1938.3,306.0 L1941.2,297.2 L1944.2,291.9 L1947.1,285.5 L1949.5,279.0 L1952.5,262.8 L1954.7,291.4 L1956.9,314.9 L1959.8,366.3 L1963.5,372.2 L1969.4,397.9 L1972.3,372.2 L1975.2,357.5 L1978.2,366.3 L1981.1,362.6 L1983.6,378.8 L1986.5,362.6 L1989.9,363.3 L1992.1,357.5 L1994.8,384.6 L1997.7,368.5 L2000.6,386.8 L2003.6,369.2 L2006.8,373.6 L2009.0,346.5 L2012.2,345.7 L2014.9,330.3 L2017.8,332.5 L2020.8,341.3 L2023.7,353.1 L2029.6,356.7 L2032.5,325.2 L2034.7,297.3 L2037.7,304.6 L2042.8,320.0 L2045.7,322.2 L2048.7,320.0 L2052.3,317.1 L2055.3,328.1 L2057.5,342.8 L2060.4,376.6 L2063.3,361.1 L2066.3,357.5 L2069.2,358.2 L2072.2,361.9 L2075.1,362.6 L2077.3,386.8 L2080.2,370.7 L2083.0,358.2" fill="none" stroke="#05A83F" stroke-width="4.5" stroke-linejoin="round" stroke-linecap="round"/>
<text x="2120" y="97.9" font-size="28" fill="#64748b" stroke="#64748b" stroke-width="0.7" textLength="77" lengthAdjust="spacingAndGlyphs">$130K</text>
<text x="2120" y="263.0" font-size="28" fill="#64748b" stroke="#64748b" stroke-width="0.7" textLength="77" lengthAdjust="spacingAndGlyphs">$125K</text>
<text x="2120" y="426.5" font-size="28" fill="#64748b" stroke="#64748b" stroke-width="0.7" textLength="77" lengthAdjust="spacingAndGlyphs">$120K</text>
<text x="2120" y="591.5" font-size="28" fill="#64748b" stroke="#64748b" stroke-width="0.7" textLength="70.6" lengthAdjust="spacingAndGlyphs">$115K</text>
<text x="2120" y="755.9" font-size="28" fill="#64748b" stroke="#64748b" stroke-width="0.7" textLength="71" lengthAdjust="spacingAndGlyphs">$110K</text>
<text x="2120" y="920.5" font-size="28" fill="#64748b" stroke="#64748b" stroke-width="0.7" textLength="77" lengthAdjust="spacingAndGlyphs">$105K</text>
<g><clipPath id="lc"><circle cx="1856.7" cy="858.7" r="24.7"/></clipPath><circle cx="1856.7" cy="858.7" r="24.7" fill="#FDF0AE"/><g clip-path="url(#lc)"><path d="M1835,892 C1836.5,874 1835,856 1841.5,847.7 C1845,844.5 1852,844.2 1857.8,844.6 C1862,845 1868,848 1872.9,850.9 C1876,852.5 1877.2,855.5 1876.3,857.8 C1875,861 1870,864.5 1866.7,867.9 C1863.5,871.5 1862,876 1861.4,880 C1861,884 1860.7,888 1860.7,892 Z" fill="#A9E590"/></g><circle cx="1852.6" cy="852.4" r="4.7" fill="#fff"/><circle cx="1854.9" cy="852" r="2.4" fill="#6f7676"/><circle cx="1853.9" cy="851.2" r="0.8" fill="#d8dada"/></g>
<text x="1899" y="867.2" font-size="33" font-weight="bold" fill="#808488" stroke="#808488" stroke-width="0.6" stroke-linejoin="round" textLength="162.5" lengthAdjust="spacingAndGlyphs">coingecko</text>
<g transform="translate(377.9,936)"><rect width="70" height="42" rx="10" fill="#32CA5B"/><path d="M28.8,0.3 L35.0,-5.9 L41.2,0.3 Z" fill="#32CA5B"/><g transform="translate(0.6,0)"><path d="M16.3,8.5 H33.6 Q36.1,8.5 36.1,11 V30.5 Q36.1,33 33.6,33 H11 Q8.4,33 8.4,30.4 V14 Q8.4,12.2 10.2,12.2 Q12,12.2 12,14 V28 Q12,28.9 12.9,28.9 Q13.8,28.9 13.8,28 V11 Q13.8,8.5 16.3,8.5 Z" fill="#f8f9fa"/><rect x="17.3" y="12.3" width="8.5" height="6.6" rx="1.5" fill="#32CA5B"/><rect x="28.8" y="12.3" width="3.8" height="1.5" rx="0.75" fill="#32CA5B"/><rect x="28.8" y="17.4" width="3.8" height="1.5" rx="0.75" fill="#32CA5B"/><rect x="17.3" y="22.6" width="15.3" height="1.5" rx="0.75" fill="#32CA5B"/><rect x="17.3" y="27.8" width="15.3" height="1.5" rx="0.75" fill="#32CA5B"/></g><text x="44.4" y="31.1" font-size="30.3" font-weight="bold" fill="#f8f9fa">9</text></g>
<g transform="translate(856.0,936)"><rect width="70" height="42" rx="10" fill="#32CA5B"/><path d="M28.699999999999978,0.3 L34.89999999999998,-5.9 L41.09999999999998,0.3 Z" fill="#32CA5B"/><g transform="translate(0.6,0)"><path d="M16.3,8.5 H33.6 Q36.1,8.5 36.1,11 V30.5 Q36.1,33 33.6,33 H11 Q8.4,33 8.4,30.4 V14 Q8.4,12.2 10.2,12.2 Q12,12.2 12,14 V28 Q12,28.9 12.9,28.9 Q13.8,28.9 13.8,28 V11 Q13.8,8.5 16.3,8.5 Z" fill="#f8f9fa"/><rect x="17.3" y="12.3" width="8.5" height="6.6" rx="1.5" fill="#32CA5B"/><rect x="28.8" y="12.3" width="3.8" height="1.5" rx="0.75" fill="#32CA5B"/><rect x="28.8" y="17.4" width="3.8" height="1.5" rx="0.75" fill="#32CA5B"/><rect x="17.3" y="22.6" width="15.3" height="1.5" rx="0.75" fill="#32CA5B"/><rect x="17.3" y="27.8" width="15.3" height="1.5" rx="0.75" fill="#32CA5B"/></g><text x="44.4" y="31.1" font-size="30.3" font-weight="bold" fill="#f8f9fa">5</text></g>
<g transform="translate(1327.9,936)"><rect width="82" height="42" rx="10" fill="#32CA5B"/><path d="M34.899999999999906,0.3 L41.09999999999991,-5.9 L47.29999999999991,0.3 Z" fill="#32CA5B"/><g transform="translate(0.6,0)"><path d="M16.3,8.5 H33.6 Q36.1,8.5 36.1,11 V30.5 Q36.1,33 33.6,33 H11 Q8.4,33 8.4,30.4 V14 Q8.4,12.2 10.2,12.2 Q12,12.2 12,14 V28 Q12,28.9 12.9,28.9 Q13.8,28.9 13.8,28 V11 Q13.8,8.5 16.3,8.5 Z" fill="#f8f9fa"/><rect x="17.3" y="12.3" width="8.5" height="6.6" rx="1.5" fill="#32CA5B"/><rect x="28.8" y="12.3" width="3.8" height="1.5" rx="0.75" fill="#32CA5B"/><rect x="28.8" y="17.4" width="3.8" height="1.5" rx="0.75" fill="#32CA5B"/><rect x="17.3" y="22.6" width="15.3" height="1.5" rx="0.75" fill="#32CA5B"/><rect x="17.3" y="27.8" width="15.3" height="1.5" rx="0.75" fill="#32CA5B"/></g><path d="M53.45,10.3 V31.1 H48.5 V15.2 L45.1,17.4 L44.6,13.9 L49.6,10.3 Z" fill="#f8f9fa"/><text x="55.0" y="31.1" font-size="30.3" font-weight="bold" fill="#f8f9fa">9</text></g>
<g transform="translate(1812.9,936)"><rect width="71.1" height="42" rx="10" fill="#32CA5B"/><path d="M28.8,0.3 L35.0,-5.9 L41.2,0.3 Z" fill="#32CA5B"/><g transform="translate(0.6,0)"><path d="M16.3,8.5 H33.6 Q36.1,8.5 36.1,11 V30.5 Q36.1,33 33.6,33 H11 Q8.4,33 8.4,30.4 V14 Q8.4,12.2 10.2,12.2 Q12,12.2 12,14 V28 Q12,28.9 12.9,28.9 Q13.8,28.9 13.8,28 V11 Q13.8,8.5 16.3,8.5 Z" fill="#f8f9fa"/><rect x="17.3" y="12.3" width="8.5" height="6.6" rx="1.5" fill="#32CA5B"/><rect x="28.8" y="12.3" width="3.8" height="1.5" rx="0.75" fill="#32CA5B"/><rect x="28.8" y="17.4" width="3.8" height="1.5" rx="0.75" fill="#32CA5B"/><rect x="17.3" y="22.6" width="15.3" height="1.5" rx="0.75" fill="#32CA5B"/><rect x="17.3" y="27.8" width="15.3" height="1.5" rx="0.75" fill="#32CA5B"/></g><text x="44.4" y="31.1" font-size="30.3" font-weight="bold" fill="#f8f9fa">6</text></g>
</svg></body></html>
